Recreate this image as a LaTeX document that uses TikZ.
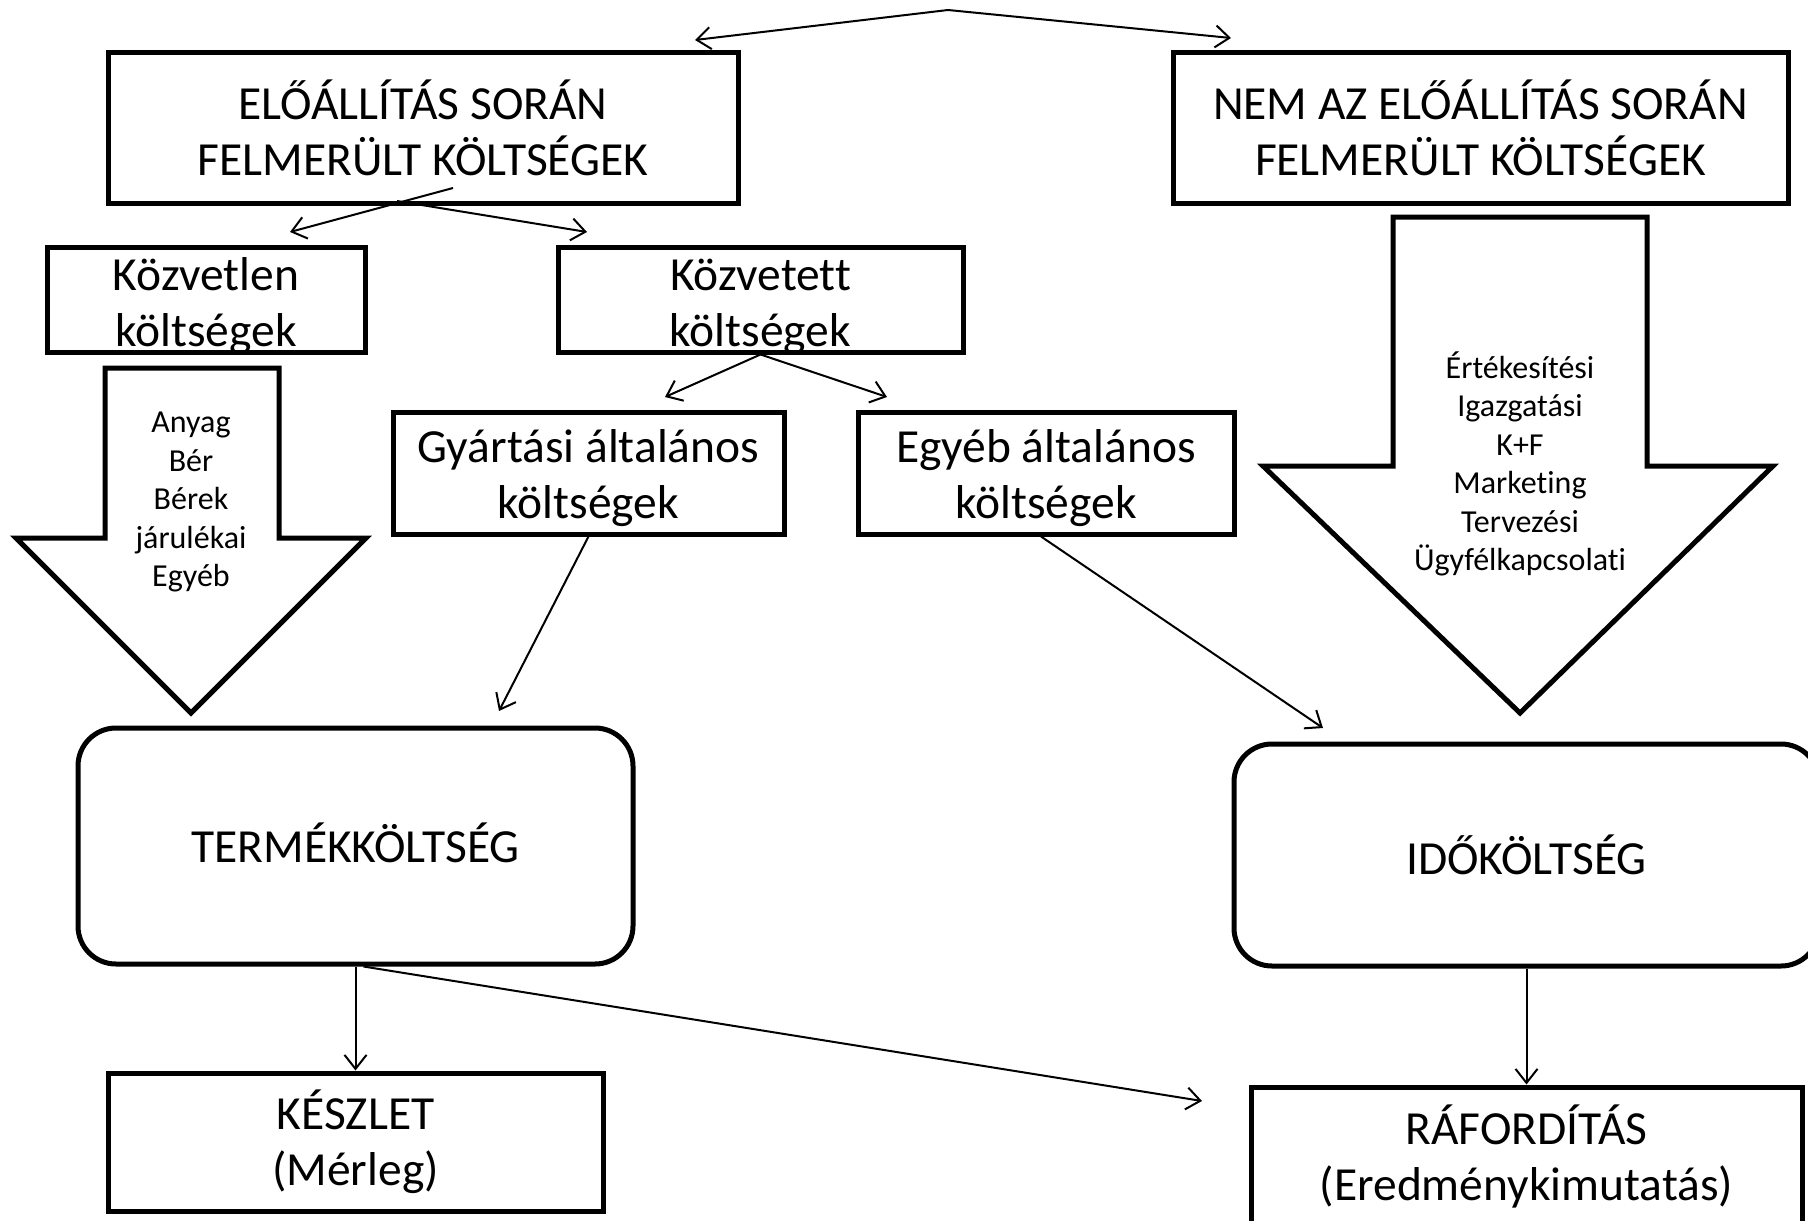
\documentclass[tikz,border=0pt]{standalone}
\usepackage{fontspec}
\setmainfont[Ligatures={NoCommon,NoContextual}]{Carlito}
\usetikzlibrary{arrows.meta,calc}
\newcommand{\bigf}{\fontsize{47.5}{56}\selectfont}
\newcommand{\smallf}{\fontsize{32}{38.5}\selectfont}
\begin{document}
\begin{tikzpicture}[x=1pt,y=-1pt,
  box/.style={draw, line width=5pt, inner sep=0pt, align=center, font=\bigf},
  rbox/.style={box, rounded corners=38pt},
  txt/.style={inner sep=0pt, align=center, font=\bigf},
  conn/.style={line width=2pt, -{Straight Barb[length=14pt,width=22pt]}},
  bigarrow/.style={draw, line width=5pt, line join=miter},
  lst/.style={align=center, font=\smallf, inner sep=0pt}]
\path[use as bounding box] (0,0) rectangle (1808,1221);
\clip (0,0) rectangle (1808,1221);

% boxes
\node[box, minimum width=630pt, minimum height=151pt] (b1) at (423,127.5) {ELŐÁLLÍTÁS SORÁN\\FELMERÜLT KÖLTSÉGEK};
\node[box, minimum width=615pt, minimum height=151pt] (b2) at (1480.5,127.5) {NEM AZ ELŐÁLLÍTÁS SORÁN\\FELMERÜLT KÖLTSÉGEK};
\node[box, minimum width=318pt, minimum height=105pt] (kozvetlen) at (206,299.5) {};
\node[txt] (kozvetlenT) at (206,306.5) {Közvetlen\\költségek};
\node[box, minimum width=405pt, minimum height=105pt] (kozvetett) at (760.5,299.5) {};
\node[txt] (kozvetettT) at (760.5,306.5) {Közvetett\\költségek};
\node[box, minimum width=391pt, minimum height=122pt] (gyartasi) at (588.5,473) {};
\node[txt] (gyartasiT) at (588.5,478) {Gyártási általános\\költségek};
\node[box, minimum width=376pt, minimum height=122pt] (egyeb) at (1046,473) {};
\node[txt] (egyebT) at (1046,478) {Egyéb általános\\költségek};
\node[rbox, minimum width=555pt, minimum height=236pt] (termek) at (355.5,846) {};
\node[txt] (termekT) at (355.5,843) {TERMÉKKÖLTSÉG};
\node[rbox, minimum width=585pt, minimum height=222pt] (ido) at (1526.5,855) {IDŐKÖLTSÉG};
\node[box, minimum width=495pt, minimum height=138pt] (keszlet) at (355.5,1142) {KÉSZLET\\(Mérleg)};
\node[box, minimum width=551pt, minimum height=138pt] (raf) at (1526.5,1156) {RÁFORDÍTÁS\\(Eredménykimutatás)};

% big block arrows
\draw[bigarrow] (105,368) -- (279,368) -- (279,538) -- (366,538) -- (191,713) -- (16,538) -- (105,538) -- cycle;
\node[lst] (leftlist) at (191,502) {Anyag\\Bér\\Bérek\\járulékai\\Egyéb};
\draw[bigarrow] (1393,217) -- (1647,217) -- (1647,466) -- (1773,466) -- (1520,713) -- (1263,466) -- (1393,466) -- cycle;
\node[lst] (rightlist) at (1520,464) {Értékesítési\\Igazgatási\\K+F\\Marketing\\Tervezési\\Ügyfélkapcsolati};

% free-end coordinates
\coordinate (apex) at (948,10);
\coordinate (tl) at (695,40);
\coordinate (tr) at (1231,38);
\coordinate (s1) at (453,188);
\coordinate (t1) at (290,232);
\coordinate (s2) at (397,201);
\coordinate (t2) at (587,232);
\coordinate (t3) at (665,397);
\coordinate (t4) at (887,397);
\coordinate (t5) at (499,711);
\coordinate (t6) at (1323,728);
\coordinate (t7) at (1202,1101);

% connectors
\draw[conn] (apex) -- (tl);
\draw[conn] (apex) -- (tr);
\draw[conn] (s1) -- (t1);
\draw[conn] (s2) -- (t2);
\draw[conn] (kozvetett.south) -- (t3);
\draw[conn] (kozvetett.south) -- (t4);
\draw[conn] (gyartasi.south) -- (t5);
\draw[conn] ($(egyeb.south)+(-5,0)$) -- (t6);
\draw[conn] (termek.south) -- (keszlet.north);
\draw[conn] ($(termek.south)+(8,0)$) -- (t7);
\draw[conn] (ido.south) -- (raf.north);
\end{tikzpicture}
\end{document}
